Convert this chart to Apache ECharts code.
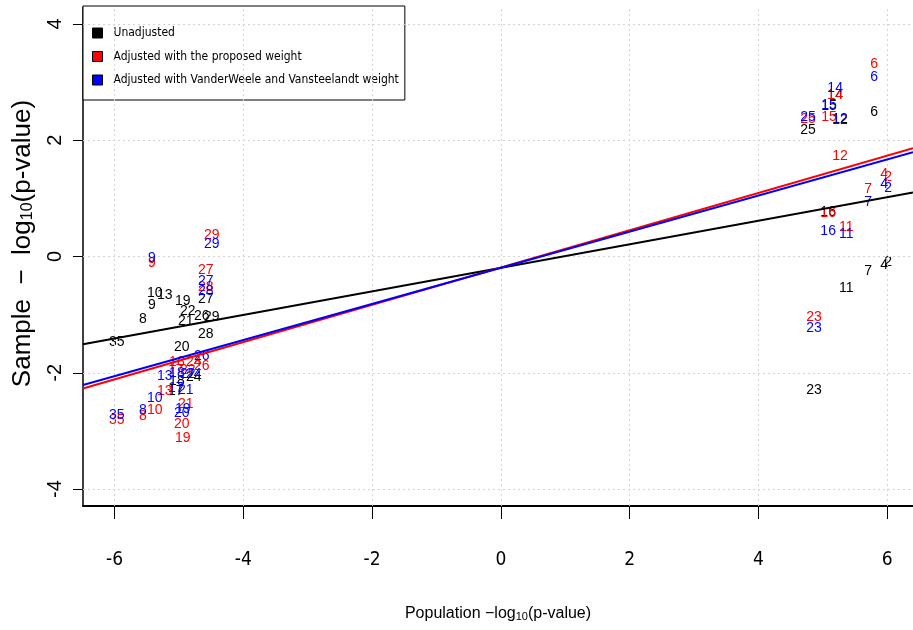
<!DOCTYPE html>
<html>
<head>
<meta charset="utf-8">
<script src="https://cdn.jsdelivr.net/npm/echarts@6/dist/echarts.min.js"></script>
<style>html,body{margin:0;padding:0;background:#fff}#c{width:913px;height:630px}</style>
</head>
<body>
<div id="c"></div>
<script>
// ---- data ----
const pointIds = [35, 8, 9, 10, 13, 17, 18, 19, 20, 21, 22, 24, 26, 27, 28, 29,
                  2, 4, 6, 7, 11, 12, 14, 15, 16, 23, 25];
const population = [-5.965, -5.561, -5.421, -5.374, -5.219, -5.048, -5.032, -4.939, -4.955, -4.893, -4.862, -4.769, -4.645, -4.582, -4.582, -4.489,
                    6.015, 5.952, 5.797, 5.704, 5.362, 5.268, 5.191, 5.097, 5.082, 4.864, 4.769];
const unadjusted = [-1.48, -1.07, -0.83, -0.63, -0.66, -2.32, -2.15, -0.77, -1.55, -1.12, -0.94, -2.07, -1.02, -0.74, -1.33, -1.04,
                    -0.09, -0.14, 2.49, -0.26, -0.55, 2.37, 2.78, 2.58, 0.77, -2.29, 2.18];
const proposed = [-2.81, -2.75, -0.12, -2.64, -2.32, -1.95, -1.82, -3.13, -2.88, -2.53, -1.95, -1.81, -1.88, -0.24, -0.52, 0.36,
                  1.36, 1.42, 3.30, 1.15, 0.51, 1.72, 2.77, 2.39, 0.74, -1.05, 2.37];
const vanderweele = [-2.72, -2.64, -0.03, -2.43, -2.05, -2.26, -2.00, -2.63, -2.69, -2.29, -2.02, -2.03, -1.72, -0.43, -0.59, 0.22,
                     1.17, 1.25, 3.08, 0.93, 0.38, 2.34, 2.89, 2.61, 0.43, -1.24, 2.40];
const seriesNames = ['Unadjusted', 'Adjusted with the proposed weight', 'Adjusted with VanderWeele and Vansteelandt weight'];
const seriesColors = ['#000000', '#ff0000', '#0000ff'];
const fitIntercept = [-0.195, -0.189, -0.193];
const fitSlope = [0.2025, 0.3205, 0.3105];
const xTicks = [-6, -4, -2, 0, 2, 4, 6];
const yTicks = [-4, -2, 0, 2, 4];
const xRange = [-6.49, 6.40];
const yRange = [-4.29, 4.29];

const cond = '"DejaVu Sans Condensed", "Liberation Sans", sans-serif';
const wide = '"Liberation Sans", Arial, sans-serif';

const ySets = [unadjusted, proposed, vanderweele];
const series = [];
ySets.forEach((ys, k) => {
  series.push({
    name: seriesNames[k],
    type: 'scatter',
    symbol: 'circle',
    symbolSize: 1,
    silent: true,
    z: 3 + k,
    itemStyle: { color: seriesColors[k], opacity: 0 },
    label: {
      show: true, position: 'inside', opacity: 1,
      formatter: p => String(p.data[2]),
      color: seriesColors[k], fontSize: 14, fontFamily: wide
    },
    emphasis: { disabled: true },
    data: population.map((x, i) => [x, ys[i], pointIds[i]])
  });
});
ySets.forEach((ys, k) => {
  series.push({
    name: 'fit ' + seriesNames[k],
    type: 'line',
    symbol: 'none',
    silent: true,
    z: 10,
    lineStyle: { color: seriesColors[k], width: 2, opacity: 1 },
    data: xRange.map(x => [x, fitIntercept[k] + fitSlope[k] * x])
  });
});
// dotted reference grid
series.push({
  name: 'grid', type: 'line', data: [], silent: true, z: 1,
  markLine: {
    silent: true, symbol: ['none', 'none'], label: { show: false },
    lineStyle: { type: [2, 3], color: '#d4d4d4', width: 1 },
    emphasis: { disabled: true },
    data: xTicks.map(v => ({ xAxis: v })).concat(yTicks.map(v => ({ yAxis: v })))
  }
});

const chart = echarts.init(document.getElementById('c'), null, { renderer: 'canvas' });
chart.setOption({
  animation: false,
  backgroundColor: '#ffffff',
  grid: { left: 83, right: 0, top: 7, bottom: 124, containLabel: false },
  legend: {
    orient: 'vertical', left: 83, top: 6,
    padding: [21, 6, 14, 9], itemGap: 11.5, itemWidth: 10, itemHeight: 10,
    backgroundColor: '#fff', borderColor: '#000', borderWidth: 1, borderRadius: 0,
    textStyle: { fontFamily: cond, fontSize: 12, color: '#000', padding: [0, 0, 0, 6] },
    selectedMode: false,
    data: seriesNames.map((n, k) => ({
      name: n, icon: 'rect',
      itemStyle: { color: seriesColors[k], opacity: 1, borderColor: '#000', borderWidth: 1 }
    }))
  },
  xAxis: {
    type: 'value', min: xRange[0], max: xRange[1],
    splitLine: { show: false },
    axisLine: { show: true, onZero: false, lineStyle: { color: '#000', width: 2 } },
    axisTick: { show: true, length: 13, customValues: xTicks, lineStyle: { color: '#000', width: 1 } },
    axisLabel: { customValues: xTicks, margin: 45, fontSize: 19, fontFamily: cond, color: '#000' },
    name: 'Population −log{s|10}(p-value)',
    nameLocation: 'middle', nameGap: 100,
    nameTextStyle: { fontFamily: wide, fontSize: 16, color: '#000',
      rich: { s: { fontFamily: wide, fontSize: 11, verticalAlign: 'bottom', color: '#000' } } }
  },
  yAxis: {
    type: 'value', min: yRange[0], max: yRange[1],
    splitLine: { show: false },
    axisLine: { show: true, onZero: false, lineStyle: { color: '#000', width: 1.5 } },
    axisTick: { show: true, length: 10, customValues: yTicks, lineStyle: { color: '#000', width: 1 } },
    axisLabel: { customValues: yTicks, rotate: 90, margin: 18, fontSize: 20, fontFamily: wide, color: '#000' },
    name: 'Sample  −  log{s|10}(p-value)',
    nameLocation: 'middle', nameGap: 47, nameRotate: 90,
    nameTextStyle: { fontFamily: wide, fontSize: 26, color: '#000', padding: [0, 0, 0, 26],
      rich: { s: { fontFamily: wide, fontSize: 16, verticalAlign: 'bottom', color: '#000' } } }
  },
  series: series
});
</script>
</body>
</html>
